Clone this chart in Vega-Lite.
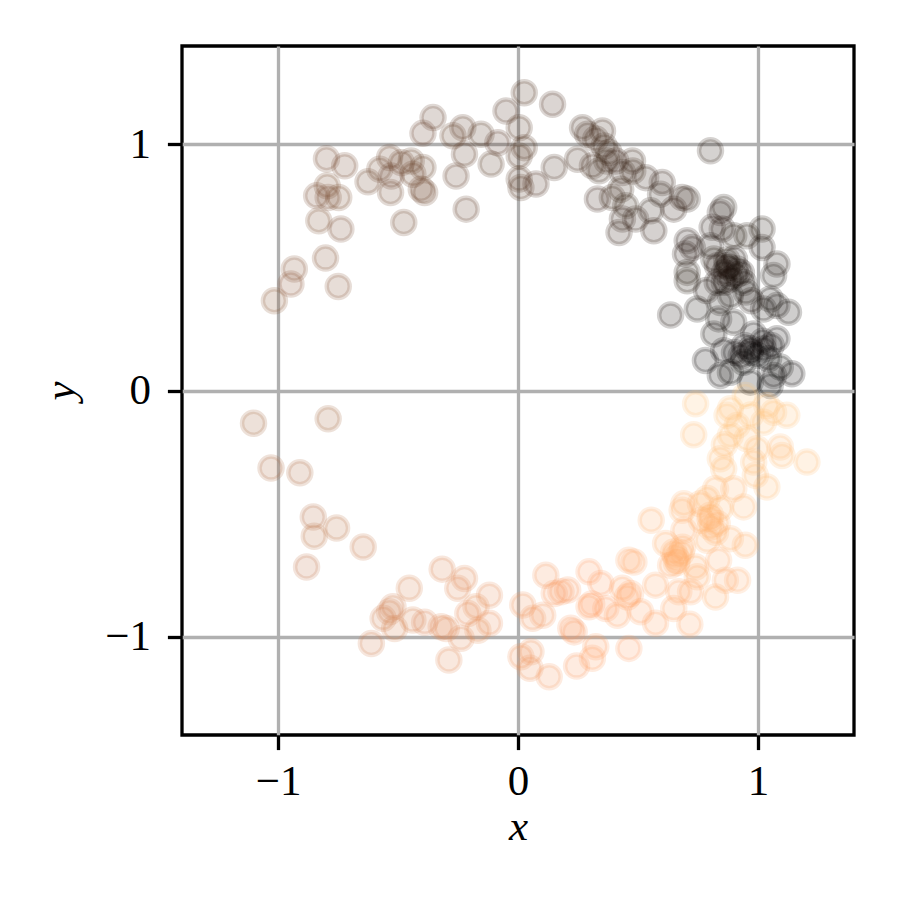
{
  "$schema": "https://vega.github.io/schema/vega-lite/v6.json",
  "width": 672,
  "height": 689,
  "autosize": {"type": "none"},
  "padding": {"left": 182, "top": 46, "right": 47, "bottom": 166},
  "background": "white",
  "data": {"values": [
    {"x":-0.798,"y":0.942,"t":0.362},{"x":-0.722,"y":0.913,"t":0.357},{"x":-0.625,"y":0.848,"t":0.351},{"x":-0.535,"y":0.947,"t":0.332},
    {"x":-0.576,"y":0.899,"t":0.341},{"x":-0.528,"y":0.872,"t":0.337},{"x":-0.486,"y":0.926,"t":0.327},{"x":-0.531,"y":0.805,"t":0.343},
    {"x":-0.795,"y":0.832,"t":0.371},{"x":-0.839,"y":0.791,"t":0.380},{"x":-0.791,"y":0.784,"t":0.376},{"x":-0.747,"y":0.784,"t":0.371},
    {"x":-0.830,"y":0.690,"t":0.390},{"x":-0.738,"y":0.656,"t":0.384},{"x":-0.476,"y":0.683,"t":0.348},{"x":-0.802,"y":0.538,"t":0.406},
    {"x":-0.932,"y":0.494,"t":0.423},{"x":-0.749,"y":0.423,"t":0.418},{"x":-1.015,"y":0.365,"t":0.445},{"x":-0.946,"y":0.433,"t":0.432},
    {"x":-1.102,"y":-0.133,"t":0.519},{"x":-0.791,"y":-0.115,"t":0.523},{"x":-1.029,"y":-0.315,"t":0.547},{"x":-0.909,"y":-0.334,"t":0.556},
    {"x":-0.853,"y":-0.514,"t":0.586},{"x":-0.849,"y":-0.592,"t":0.597},{"x":-0.756,"y":-0.559,"t":0.601},{"x":-0.645,"y":-0.636,"t":0.624},
    {"x":-0.881,"y":-0.717,"t":0.609},{"x":-0.521,"y":-0.879,"t":0.665},{"x":-0.562,"y":-0.926,"t":0.663},{"x":-0.535,"y":-0.899,"t":0.664},
    {"x":-0.514,"y":-0.967,"t":0.672},{"x":-0.611,"y":-1.028,"t":0.665},{"x":-0.453,"y":-0.804,"t":0.668},{"x":-0.316,"y":-0.726,"t":0.685},
    {"x":-0.223,"y":-0.764,"t":0.705},{"x":-0.251,"y":-0.804,"t":0.702},{"x":-0.119,"y":-0.832,"t":0.728},{"x":-0.175,"y":-0.879,"t":0.719},
    {"x":-0.209,"y":-0.906,"t":0.714},{"x":-0.119,"y":-0.946,"t":0.730},{"x":-0.167,"y":-0.974,"t":0.723},{"x":-0.237,"y":-1.007,"t":0.713},
    {"x":-0.288,"y":-1.095,"t":0.709},{"x":-0.438,"y":-0.933,"t":0.680},{"x":-0.389,"y":-0.942,"t":0.688},{"x":-0.320,"y":-0.960,"t":0.699},
    {"x":-0.299,"y":-0.967,"t":0.702},{"x":0.020,"y":-0.872,"t":0.754},{"x":0.061,"y":-0.926,"t":0.760},{"x":0.103,"y":-0.913,"t":0.768},
    {"x":0.116,"y":-0.751,"t":0.774},{"x":0.151,"y":-0.825,"t":0.779},{"x":0.179,"y":-0.818,"t":0.784},{"x":0.207,"y":-0.811,"t":0.790},
    {"x":0.012,"y":-1.082,"t":0.752},{"x":0.054,"y":-1.062,"t":0.758},{"x":0.050,"y":-1.129,"t":0.757},{"x":0.130,"y":-1.163,"t":0.768},
    {"x":0.234,"y":-0.981,"t":0.787},{"x":0.220,"y":-0.966,"t":0.786},{"x":0.244,"y":-1.120,"t":0.784},{"x":0.310,"y":-1.088,"t":0.794},
    {"x":0.324,"y":-1.041,"t":0.798},{"x":0.296,"y":-0.737,"t":0.811},{"x":0.345,"y":-0.784,"t":0.816},{"x":0.296,"y":-0.879,"t":0.802},
    {"x":0.307,"y":-0.868,"t":0.804},{"x":0.366,"y":-0.886,"t":0.812},{"x":0.414,"y":-0.913,"t":0.818},{"x":0.435,"y":-0.804,"t":0.829},
    {"x":0.462,"y":-0.690,"t":0.844},{"x":0.456,"y":-0.839,"t":0.829},{"x":0.462,"y":-1.048,"t":0.816},{"x":0.555,"y":-0.527,"t":0.879},
    {"x":0.684,"y":-0.487,"t":0.902},{"x":0.802,"y":-0.507,"t":0.910},{"x":0.843,"y":-0.480,"t":0.918},{"x":0.940,"y":-0.473,"t":0.926},
    {"x":0.691,"y":-0.568,"t":0.891},{"x":0.802,"y":-0.555,"t":0.904},{"x":0.788,"y":-0.609,"t":0.895},{"x":0.885,"y":-0.602,"t":0.905},
    {"x":0.947,"y":-0.629,"t":0.907},{"x":0.615,"y":-0.622,"t":0.874},{"x":0.649,"y":-0.656,"t":0.874},{"x":0.664,"y":-0.690,"t":0.872},
    {"x":0.636,"y":-0.710,"t":0.866},{"x":0.740,"y":-0.717,"t":0.878},{"x":0.747,"y":-0.757,"t":0.874},{"x":0.836,"y":-0.690,"t":0.890},
    {"x":0.864,"y":-0.771,"t":0.884},{"x":0.915,"y":-0.771,"t":0.889},{"x":0.483,"y":-0.697,"t":0.846},{"x":0.573,"y":-0.791,"t":0.850},
    {"x":0.670,"y":-0.818,"t":0.859},{"x":0.719,"y":-0.818,"t":0.865},{"x":0.823,"y":-0.839,"t":0.874},{"x":0.649,"y":-0.886,"t":0.851},
    {"x":0.511,"y":-0.899,"t":0.832},{"x":0.469,"y":-0.825,"t":0.832},{"x":0.573,"y":-0.946,"t":0.837},{"x":0.716,"y":-0.950,"t":0.853},
    {"x":0.764,"y":-0.527,"t":0.904},{"x":0.823,"y":-0.576,"t":0.903},{"x":0.656,"y":-0.673,"t":0.873},{"x":0.686,"y":-0.637,"t":0.881},
    {"x":0.800,"y":-0.520,"t":0.908},{"x":0.830,"y":-0.540,"t":0.906},{"x":0.660,"y":-0.700,"t":0.870},{"x":0.680,"y":-0.660,"t":0.877},
    {"x":0.760,"y":-0.460,"t":0.913},{"x":0.860,"y":-0.220,"t":0.960},{"x":0.970,"y":-0.100,"t":0.984},
    {"x":0.705,"y":0.446,"t":0.090},{"x":0.636,"y":0.307,"t":0.072},{"x":0.747,"y":0.331,"t":0.066},{"x":0.830,"y":0.439,"t":0.078},
    {"x":0.885,"y":0.453,"t":0.075},{"x":0.940,"y":0.439,"t":0.069},{"x":0.843,"y":0.358,"t":0.064},{"x":0.885,"y":0.385,"t":0.065},
    {"x":0.836,"y":0.291,"t":0.053},{"x":0.899,"y":0.277,"t":0.048},{"x":0.816,"y":0.230,"t":0.044},{"x":1.051,"y":0.372,"t":0.054},
    {"x":1.079,"y":0.345,"t":0.049},{"x":1.127,"y":0.318,"t":0.044},{"x":1.023,"y":0.331,"t":0.050},{"x":0.982,"y":0.230,"t":0.037},
    {"x":1.079,"y":0.210,"t":0.031},{"x":1.023,"y":0.169,"t":0.026},{"x":0.968,"y":0.155,"t":0.025},{"x":0.781,"y":0.122,"t":0.025},
    {"x":0.857,"y":0.162,"t":0.030},{"x":0.885,"y":0.074,"t":0.013},{"x":0.843,"y":0.061,"t":0.011},{"x":0.940,"y":0.115,"t":0.019},
    {"x":0.968,"y":0.034,"t":0.006},{"x":1.065,"y":0.061,"t":0.009},{"x":1.141,"y":0.068,"t":0.009},{"x":1.051,"y":0.020,"t":0.003},
    {"x":1.044,"y":0.129,"t":0.020},{"x":1.093,"y":0.095,"t":0.014},{"x":1.065,"y":0.467,"t":0.066},
    {"x":0.880,"y":0.500,"t":0.090},{"x":0.910,"y":0.470,"t":0.080},{"x":0.860,"y":0.440,"t":0.080},{"x":0.970,"y":0.170,"t":0.028},
    {"x":1.020,"y":0.200,"t":0.031},{"x":0.930,"y":0.140,"t":0.024},{"x":0.870,"y":0.530,"t":0.090},{"x":0.950,"y":0.400,"t":0.065},
    {"x":0.740,"y":-0.054,"t":0.988},
    {"x":0.732,"y":-0.180,"t":0.962},{"x":0.885,"y":-0.074,"t":0.987},{"x":0.871,"y":-0.101,"t":0.982},{"x":0.947,"y":-0.020,"t":0.997},
    {"x":0.913,"y":-0.142,"t":0.976},{"x":0.885,"y":-0.183,"t":0.968},{"x":1.037,"y":-0.061,"t":0.991},{"x":1.065,"y":-0.088,"t":0.987},
    {"x":1.120,"y":-0.101,"t":0.986},{"x":1.023,"y":-0.129,"t":0.980},{"x":0.954,"y":-0.196,"t":0.968},{"x":0.996,"y":-0.237,"t":0.963},
    {"x":1.093,"y":-0.230,"t":0.967},{"x":1.100,"y":-0.264,"t":0.962},{"x":1.204,"y":-0.291,"t":0.962},{"x":0.843,"y":-0.277,"t":0.949},
    {"x":0.857,"y":-0.318,"t":0.943},{"x":0.982,"y":-0.291,"t":0.954},{"x":0.989,"y":-0.345,"t":0.947},{"x":1.037,"y":-0.392,"t":0.943},
    {"x":0.899,"y":-0.399,"t":0.934},{"x":0.823,"y":-0.399,"t":0.928},{"x":0.691,"y":-0.460,"t":0.906},{"x":0.788,"y":-0.439,"t":0.919},
    {"x":0.802,"y":0.974,"t":0.140},{"x":0.477,"y":0.933,"t":0.175},{"x":0.532,"y":0.865,"t":0.162},{"x":0.601,"y":0.845,"t":0.152},
    {"x":0.594,"y":0.798,"t":0.148},{"x":0.684,"y":0.784,"t":0.136},{"x":0.705,"y":0.778,"t":0.133},{"x":0.649,"y":0.737,"t":0.135},
    {"x":0.553,"y":0.730,"t":0.147},{"x":0.490,"y":0.697,"t":0.153},{"x":0.566,"y":0.649,"t":0.136},{"x":0.705,"y":0.609,"t":0.113},
    {"x":0.726,"y":0.581,"t":0.108},{"x":0.698,"y":0.555,"t":0.107},{"x":0.857,"y":0.744,"t":0.114},{"x":0.843,"y":0.723,"t":0.113},
    {"x":0.809,"y":0.663,"t":0.109},{"x":0.851,"y":0.656,"t":0.104},{"x":0.899,"y":0.629,"t":0.097},{"x":0.954,"y":0.629,"t":0.093},
    {"x":1.017,"y":0.656,"t":0.091},{"x":1.017,"y":0.581,"t":0.083},{"x":1.079,"y":0.514,"t":0.071},{"x":0.802,"y":0.588,"t":0.101},
    {"x":0.816,"y":0.534,"t":0.092},{"x":0.871,"y":0.507,"t":0.084},{"x":0.913,"y":0.494,"t":0.079},{"x":0.705,"y":0.480,"t":0.095},
    {"x":0.860,"y":0.479,"t":0.081},{"x":0.902,"y":0.535,"t":0.085},{"x":0.931,"y":0.479,"t":0.076},{"x":0.831,"y":0.507,"t":0.087},
    {"x":0.997,"y":0.142,"t":0.023},{"x":0.943,"y":0.183,"t":0.031},{"x":1.055,"y":0.183,"t":0.027},{"x":0.902,"y":0.154,"t":0.027},
    {"x":0.785,"y":0.406,"t":0.076},{"x":0.972,"y":0.365,"t":0.057},{"x":-0.354,"y":1.109,"t":0.299},{"x":-0.396,"y":1.045,"t":0.308},
    {"x":-0.271,"y":1.035,"t":0.291},{"x":-0.230,"y":1.068,"t":0.284},{"x":-0.154,"y":1.041,"t":0.273},{"x":-0.084,"y":1.007,"t":0.263},
    {"x":-0.050,"y":1.136,"t":0.257},{"x":0.026,"y":1.210,"t":0.247},{"x":0.144,"y":1.163,"t":0.230},{"x":0.005,"y":1.068,"t":0.249},
    {"x":-0.223,"y":0.960,"t":0.286},{"x":-0.112,"y":0.920,"t":0.269},{"x":0.005,"y":0.953,"t":0.249},{"x":0.026,"y":0.987,"t":0.246},
    {"x":-0.258,"y":0.872,"t":0.296},{"x":-0.216,"y":0.737,"t":0.295},{"x":-0.445,"y":0.933,"t":0.321},{"x":-0.396,"y":0.906,"t":0.316},
    {"x":-0.438,"y":0.879,"t":0.324},{"x":-0.389,"y":0.805,"t":0.322},{"x":-0.403,"y":0.818,"t":0.323},{"x":0.005,"y":0.859,"t":0.249},
    {"x":0.012,"y":0.825,"t":0.248},{"x":0.075,"y":0.839,"t":0.236},{"x":0.151,"y":0.906,"t":0.224},{"x":0.248,"y":0.940,"t":0.209},
    {"x":0.269,"y":1.068,"t":0.211},{"x":0.290,"y":1.041,"t":0.207},{"x":0.352,"y":1.055,"t":0.199},{"x":0.359,"y":0.994,"t":0.195},
    {"x":0.379,"y":0.967,"t":0.191},{"x":0.310,"y":0.913,"t":0.198},{"x":0.338,"y":0.893,"t":0.193},{"x":0.407,"y":0.933,"t":0.184},
    {"x":0.435,"y":0.886,"t":0.178},{"x":0.331,"y":0.778,"t":0.186},{"x":0.393,"y":0.784,"t":0.176},{"x":0.428,"y":0.818,"t":0.173},
    {"x":0.449,"y":0.751,"t":0.164},{"x":0.435,"y":0.697,"t":0.161},{"x":0.421,"y":0.642,"t":0.158},{"x":0.324,"y":1.022,"t":0.201},
    {"x":0.370,"y":0.933,"t":0.190},{"x":0.478,"y":0.892,"t":0.172}
  ]},
  "mark": {"type": "point", "shape": "circle", "filled": true, "size": 529, "opacity": 1, "fillOpacity": 0.2, "strokeOpacity": 0.2, "strokeWidth": 4.5},
  "encoding": {
    "x": {"field": "x", "type": "quantitative", "scale": {"domain": [-1.4, 1.4], "nice": false, "zero": false},
          "axis": {"values": [-1, 0, 1], "title": "x", "labelExpr": "replace(datum.label, '-', '−')", "labelPadding": 11, "titlePadding": 2}},
    "y": {"field": "y", "type": "quantitative", "scale": {"domain": [-1.4, 1.4], "nice": false, "zero": false},
          "axis": {"values": [-1, 0, 1], "title": "y", "labelExpr": "replace(datum.label, '-', '−')", "labelPadding": 17, "titlePadding": 22}},
    "fill": {"field": "t", "type": "quantitative", "legend": null,
             "scale": {"domain": [0, 0.8, 1], "range": ["#000000", "#ff9f66", "#ffc77f"], "interpolate": "rgb"}},
    "stroke": {"field": "t", "type": "quantitative", "legend": null,
             "scale": {"domain": [0, 0.8, 1], "range": ["#000000", "#ff9f66", "#ffc77f"], "interpolate": "rgb"}}
  },
  "config": {
    "view": {"stroke": "black", "strokeWidth": 3.3},
    "axis": {
      "domain": false, "grid": true, "gridColor": "#b0b0b0", "gridWidth": 3.3, "gridOpacity": 1,
      "ticks": true, "tickColor": "black", "tickWidth": 3.3, "tickSize": 14.6,
      "labelFont": "Liberation Serif", "labelFontSize": 43, "labelColor": "black",
      "titleFont": "Liberation Serif", "titleFontSize": 43, "titleFontStyle": "italic", "titleFontWeight": "normal", "titleColor": "black",
      "zindex": 1
    }
  }
}
